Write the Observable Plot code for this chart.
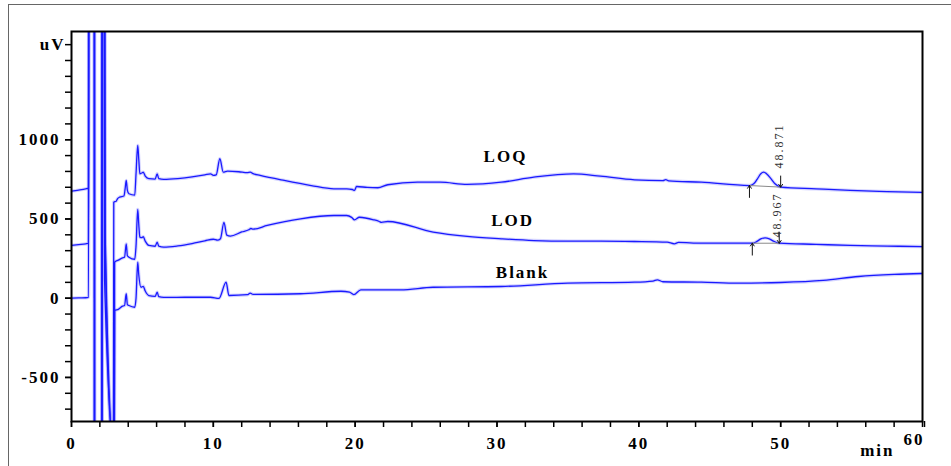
<!DOCTYPE html>
<html>
<head>
<meta charset="utf-8">
<script src="https://cdn.jsdelivr.net/npm/d3@7"></script>
<script src="https://cdn.jsdelivr.net/npm/@observablehq/plot@0.6"></script>
<style>
  html, body { margin: 0; padding: 0; background: #fff; overflow: hidden; }
  #outer { position: absolute; left: 8px; top: 4px; width: 1000px; height: 1000px;
           border-left: 1.5px solid #666; border-top: 1.5px solid #666; }
  #chart { position: absolute; left: 0; top: 0; }
  #chart svg text { letter-spacing: 2px; }
  #chart svg g[aria-label="peak-label"] text { letter-spacing: 0; }
</style>
</head>
<body>
<div id="outer"></div>
<div id="chart"></div>
<script>
// ---------- data ----------
const loqTime  = [0,0.5,1.0,1.2,1.22,1.6,1.62,2.12,2.16,2.3,2.36,2.86,2.96,2.98,3.15,3.25,3.4,3.7,3.78,3.86,3.94,4.05,4.46,4.55,4.67,4.74,4.82,4.95,5.06,5.2,5.45,5.9,6.04,6.15,6.5,7.5,8.5,9.4,9.8,10.0,10.2,10.46,10.7,11.0,11.8,12.4,12.6,12.8,13.3,15.0,16.9,18.5,19.4,19.8,19.95,20.1,20.85,21.6,22.3,24.4,26.0,27.9,30.3,32.6,35.4,37.3,39.7,41.7,41.9,42.1,44.4,47.8,48.1,48.35,48.6,48.8,49.0,49.3,49.6,50.0,52.5,54.9,57.5,60];
const loqValue = [676,682,690,695,4000,4000,-4000,-4000,4000,4000,420,-900,-900,606,612,628,638,645,690,743,680,659,650,785,964,880,785,790,795,770,754,752,785,755,750,755,765,778,785,775,778,880,795,802,798,792,795,786,775,743,711,690,690,686,680,705,699,697,716,732,732,718,732,764,785,770,747,742,748,741,732,711,722,752,785,795,786,756,722,701,690,680,673,668];

const lodTime  = [0,0.5,1.0,1.2,1.23,1.61,1.63,2.13,2.17,2.32,2.38,2.94,3.02,3.04,3.3,3.6,3.74,3.86,3.94,4.05,4.46,4.55,4.67,4.74,4.82,4.95,5.06,5.2,5.45,5.9,6.04,6.15,6.5,7.5,8.5,9.4,10.0,10.3,10.5,10.75,10.95,11.2,12.0,12.5,12.65,12.8,13.8,16.15,18.5,19.4,19.75,19.95,20.3,21.3,21.7,21.85,22.3,25.5,27.9,30.3,32.6,35.0,37.3,39.7,42.0,42.5,42.8,44.4,48.0,48.3,48.6,48.9,49.2,49.5,49.9,52.5,54.9,57.5,60];
const lodValue = [333,338,343,347,4000,4000,-4000,-4000,4000,4000,380,-900,-900,227,240,255,259,343,268,259,246,330,560,470,385,382,388,360,333,328,354,328,322,330,345,362,372,366,375,478,398,392,418,432,440,436,459,501,522,522,510,494,511,495,484,478,484,417,390,375,364,360,360,358,354,343,352,347,347,357,374,381,375,360,347,340,333,329,326];

const blankTime  = [0,0.5,1.0,1.2,1.24,1.62,1.64,2.14,2.18,2.26,2.33,2.98,3.02,3.04,3.3,3.6,3.74,3.86,3.94,4.05,4.46,4.55,4.67,4.74,4.9,5.06,5.2,5.45,5.9,6.04,6.15,6.5,8.0,9.8,10.4,10.9,11.1,12.4,12.6,12.8,16.15,19.0,19.6,19.9,20.4,23.2,25.5,30.3,35.0,39.7,41.0,41.3,41.7,44.4,47,50,53,55.5,58,60];
const blankValue = [0,2,3,5,4000,4000,-4000,-4000,4000,4000,120,-900,-900,-78,-70,-50,-46,28,-40,-46,-57,0,227,150,69,75,45,17,12,38,10,5,6,6,-1,101,17,22,32,24,28,44,38,23,53,53,69,74,95,101,108,116,104,101,95,99,112,137,150,156];

const seriesNames      = ["LOQ", "LOD", "Blank"];
const seriesLabelTime  = [30.6, 31.1, 31.8];
const seriesLabelValue = [891, 493, 165];

const peakLabels      = ["48.871", "48.967"];
const peakStartTime   = [47.8, 48.0];
const peakStartValue  = [711, 347];
const peakEndTime     = [50.0, 49.9];
const peakEndValue    = [701, 347];
const peakLabelValue  = [819, 383];

const xTickLabels = [0, 10, 20, 30, 40, 50];
const xLastTick   = [60];
const yTickLabels = [-500, 0, 500, 1000];

// ---------- build tables ----------
const traces = [
  ...loqTime.map((t, i) => ({t, v: loqValue[i], s: "LOQ"})),
  ...lodTime.map((t, i) => ({t, v: lodValue[i], s: "LOD"})),
  ...blankTime.map((t, i) => ({t, v: blankValue[i], s: "Blank"}))
];
const seriesLabels = seriesNames.map((name, i) => ({name, t: seriesLabelTime[i], v: seriesLabelValue[i]}));
const peaks = peakLabels.map((label, i) => ({
  label, st: peakStartTime[i], sv: peakStartValue[i], et: peakEndTime[i], ev: peakEndValue[i], lv: peakLabelValue[i]
}));

const serif = "'Liberation Serif', 'Times New Roman', serif";
const plain = d => String(d);

const chart = Plot.plot({
  width: 951,
  height: 466,
  marginLeft: 71,
  marginRight: 29,
  marginTop: 31,
  marginBottom: 45,
  style: {fontFamily: serif, background: "transparent", color: "black"},
  x: {domain: [0, 60], label: null},
  y: {domain: [-778, 1683], label: null},
  marks: [
    // traces: soft halo + core line
    Plot.line(traces, {x: "t", y: "v", z: "s", stroke: "#6f6fff", strokeWidth: 3.4, strokeOpacity: 0.3, curve: "monotone-x", clip: true}),
    Plot.line(traces, {x: "t", y: "v", z: "s", stroke: "#1a1aff", strokeWidth: 1.3, curve: "monotone-x", clip: true}),
    // peak integration baselines
    Plot.link(peaks, {x1: "st", y1: "sv", x2: "et", y2: "ev", stroke: "#8a8a8a", strokeWidth: 1}),
    // start (up) and end (down) arrows
    Plot.arrow(peaks, {x1: "st", y1: d => d.sv - 75, x2: "st", y2: "sv", stroke: "#111", strokeWidth: 1, headLength: 5, headAngle: 70}),
    Plot.arrow(peaks, {x1: "et", y1: d => d.ev + 70, x2: "et", y2: "ev", stroke: "#111", strokeWidth: 1, headLength: 5, headAngle: 70}),
    Plot.text(peaks, {x: "et", y: "lv", text: "label", rotate: -90, textAnchor: "start", lineAnchor: "middle",
      dx: -2, fontSize: 12, fill: "#333", fontFamily: serif, ariaLabel: "peak-label"}),
    // series names
    Plot.text(seriesLabels, {x: "t", y: "v", text: "name", fontSize: 17, fontWeight: "bold", fill: "black", fontFamily: serif}),
    // frame
    Plot.frame({stroke: "black", strokeWidth: 2}),
    // y axis: minor + labelled ticks
    Plot.axisY({ticks: d3.range(-700, 1700, 100), tickSize: 6, tickFormat: () => "", strokeWidth: 1.5}),
    Plot.axisY({ticks: yTickLabels, tickSize: 6, tickPadding: 5, tickFormat: plain, strokeWidth: 1.5, fontSize: 17, fontWeight: "bold", fontFamily: serif}),
    // x axis: minor + labelled ticks
    Plot.axisX({ticks: d3.range(0, 61, 2), tickSize: 6, tickFormat: () => "", strokeWidth: 1.5}),
    Plot.axisX({ticks: xTickLabels, tickSize: 6, tickPadding: 9, tickFormat: plain, strokeWidth: 1.5, fontSize: 17, fontWeight: "bold", fontFamily: serif}),
    Plot.axisX({ticks: xLastTick, tickSize: 6, tickPadding: 5, tickFormat: plain, textAnchor: "end", dx: 2, strokeWidth: 1.5, fontSize: 17, fontWeight: "bold", fontFamily: serif}),
    // unit labels
    Plot.text(["uV"], {frameAnchor: "top-left", textAnchor: "end", lineAnchor: "middle", dx: -6, dy: 13, fontSize: 17, fontWeight: "bold", fill: "black", fontFamily: serif}),
    Plot.text(["min"], {frameAnchor: "bottom-right", textAnchor: "end", lineAnchor: "middle", dx: -28, dy: 29, fontSize: 17, fontWeight: "bold", fill: "black", fontFamily: serif})
  ]
});
document.getElementById("chart").appendChild(chart);
</script>
</body>
</html>
